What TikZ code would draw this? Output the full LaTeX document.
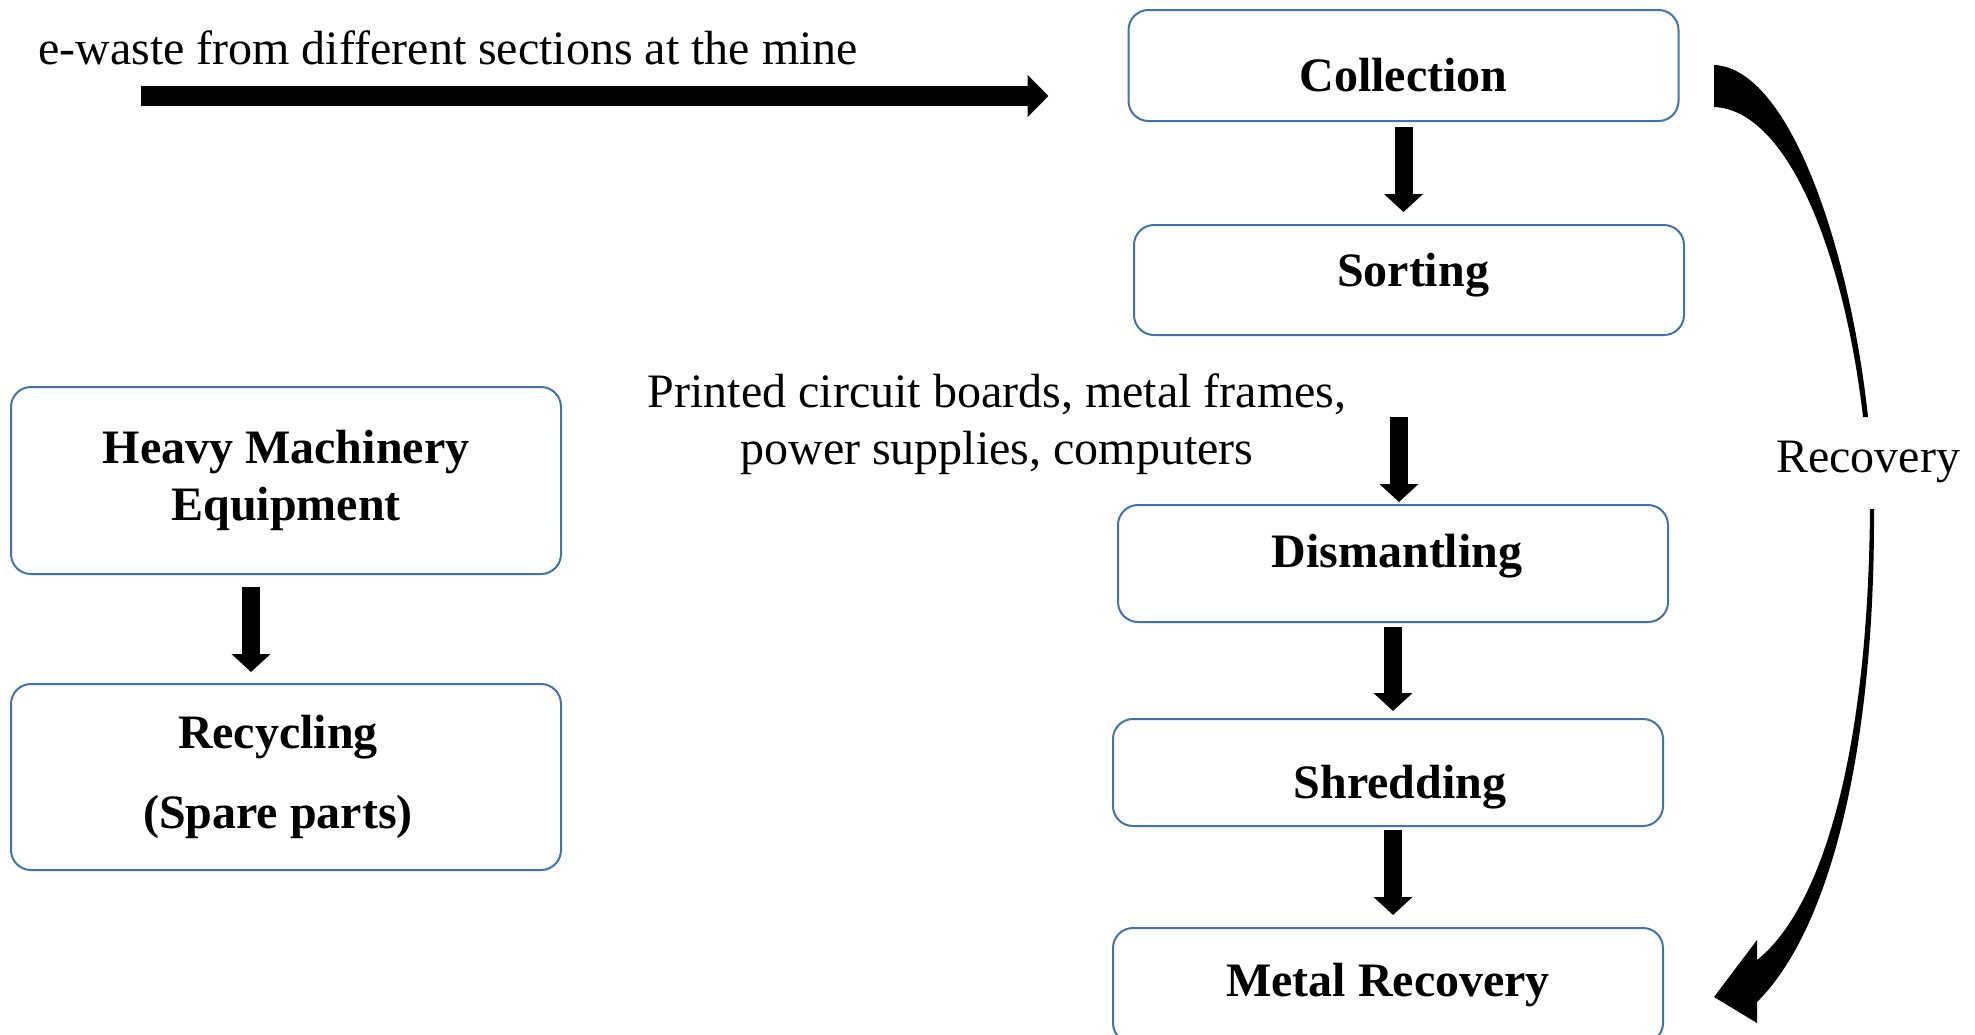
\documentclass[tikz,border=0pt]{standalone}
\usepackage{fontspec}
\setmainfont{Liberation Serif}
\usetikzlibrary{arrows.meta}

\definecolor{boxblue}{RGB}{70,115,165}
\tikzset{
  stage/.style={draw=boxblue, line width=1pt, rounded corners=10pt, minimum width=275pt,
    align=center, font=\fontsize{24}{28.8}\selectfont\bfseries},
  bigarrow/.style={line width=9pt, -{Triangle[width=19pt,length=9pt]}},
  note/.style={align=center, font=\fontsize{24}{28.8}\selectfont}
}

\begin{document}
\begin{tikzpicture}[x=0.5pt,y=-0.5pt]
 \useasboundingbox (0,0) rectangle (1975,1034);

 % main line of stages
 \node[stage, minimum height=55.5pt, text height=26.4pt, text depth=0pt] (collection) at (1403.5,65.5) {Collection};
 \node[stage, minimum height=55pt, text height=16.5pt, text depth=10.5pt] (sorting) at (1409,280) {\hspace*{4pt}Sorting};
 \node[stage, minimum height=58.5pt, text height=16.5pt, text depth=13pt] (dismantling) at (1393,563.5) {\hspace*{4pt}Dismantling};
 \node[stage, minimum height=53.5pt, text height=31.5pt, text depth=5.5pt] (shredding) at (1388,772.5) {\hspace*{12pt}Shredding};
 \node[stage, minimum height=57.5pt] (metalrec) at (1388,985.5) {Metal Recovery};

 % heavy machinery branch
 \node[stage, minimum height=93.5pt] (heavy) at (286,480.5) {Heavy Machinery\\Equipment};
 \node[stage, minimum height=93pt] (recycling) at (286,777) {Recycling\hspace*{8pt}\\[11pt](Spare parts)\hspace*{8pt}};

 \node[note, anchor=west] (ewaste) at (31,48) {e-waste from different sections at the mine};
 \node[note] (pcb) at (997,424) {Printed circuit boards, metal frames,\\power supplies, computers};
 \node[note] (recovery) at (1868,462) {Recovery};

 \coordinate (ewtail) at (141,96);
 \coordinate (pcbtail) at (1399,417);

 \draw[line width=10pt, -{Triangle[width=20.5pt,length=10.5pt]}, shorten >=39.5pt]
   (ewtail) -- (ewtail -| collection.west);
 \draw[bigarrow, shorten <=2.5pt, shorten >=6pt] (collection.south) -- (collection.south |- sorting.north);
 \draw[bigarrow, shorten >=1pt] (pcbtail) -- (pcbtail |- dismantling.north);
 \draw[bigarrow, shorten <=2pt, shorten >=3.5pt] (dismantling.south) -- (dismantling.south |- shredding.north);
 \draw[bigarrow, shorten <=1.5pt, shorten >=6pt] (dismantling.south |- shredding.south) -- (dismantling.south |- metalrec.north);
 \draw[bigarrow, shorten <=6pt, shorten >=5.5pt] ([xshift=-17.5pt]heavy.south) -- ([xshift=-17.5pt]recycling.north);

 % curved recovery arrow
 \fill (1714,65) .. controls (1790,68) and (1850,250) .. (1868,417) -- (1863,417)
   .. controls (1845,260) and (1790,110) .. (1714,107) -- cycle;
 \fill (1874,509) .. controls (1875,750) and (1830,930) .. (1757,1002)
   -- (1757,1023) -- (1714,997) -- (1757,940) -- (1757,960)
   .. controls (1820,910) and (1868,760) .. (1870,509) -- cycle;

\end{tikzpicture}
\end{document}
